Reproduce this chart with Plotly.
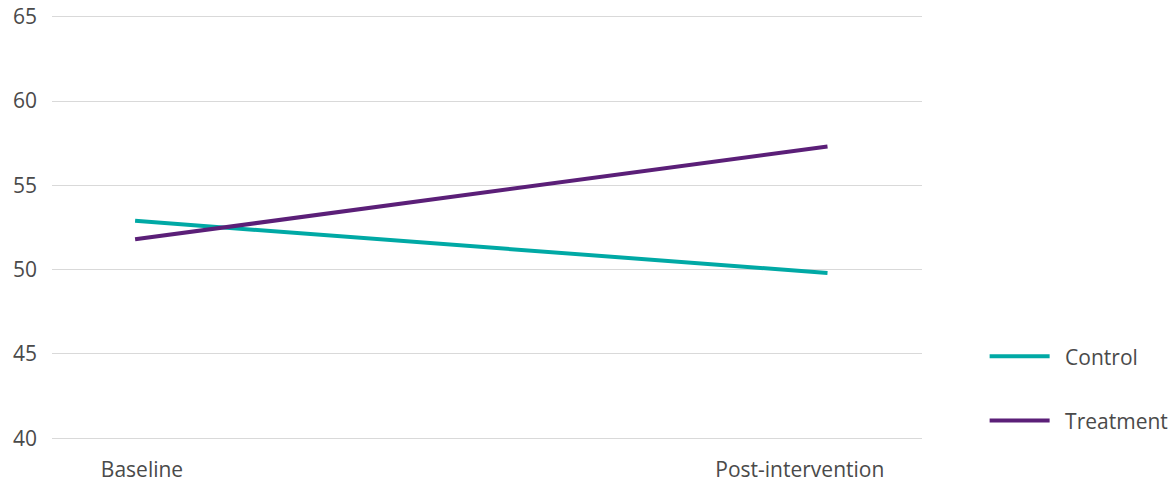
import plotly.graph_objects as go

categories = ["Baseline", "Post-intervention"]
x_index = [0, 1]
control = [52.9, 49.8]
treatment = [51.8, 57.3]
tick_positions = [0.01, 0.96]
y_ticks = [40, 45, 50, 55, 60, 65]
series_names = ["Control", "Treatment"]

FONT = "Open Sans"
TEXT = "#4a4a4a"

fig = go.Figure()
fig.add_trace(go.Scatter(x=x_index, y=control, mode="lines", name="\u2002" + series_names[0],
                         line=dict(color="#00A9A5", width=4), legendgroup="c"))
fig.add_trace(go.Scatter(x=x_index, y=treatment, mode="lines", name="\u2002" + series_names[1],
                         line=dict(color="#5B1F78", width=4), legendgroup="t"))

fig.update_layout(
    width=1168, height=484,
    margin=dict(l=52, r=246, t=15, b=44),
    paper_bgcolor="white", plot_bgcolor="white",
    font=dict(family=FONT, size=21, color=TEXT),
    showlegend=True,
    legend=dict(xref="container", yref="container", x=0.843, y=0.197,
                xanchor="left", yanchor="middle",
                tracegroupgap=34, itemwidth=60,
                font=dict(family=FONT, size=21, color=TEXT)),
    xaxis=dict(range=[-0.12, 1.1365], tickvals=tick_positions, ticktext=categories,
               showgrid=False, zeroline=False, showline=False, ticks="",
               ticklabelstandoff=15, automargin=False),
    yaxis=dict(range=[39.9, 65.1], tickvals=y_ticks, showgrid=True, gridcolor="#d9d9d9",
               gridwidth=1, zeroline=False, showline=False, ticks="",
               ticklabelstandoff=14, automargin=False),
)
fig.write_html("out.html")
